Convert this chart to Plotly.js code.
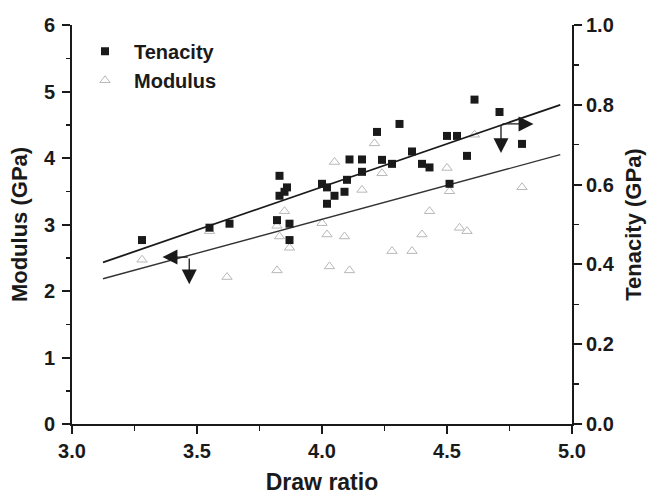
<!DOCTYPE html>
<html>
<head>
<meta charset="utf-8">
<script src="https://cdn.plot.ly/plotly-3.0.1.min.js"></script>
<style>
  html, body { margin: 0; padding: 0; background: #fff; }
  #chart { width: 647px; height: 495px; }
</style>
</head>
<body>
<div id="chart"></div>
<script>
// Tenacity (right axis, GPa) vs draw ratio
var tenacityDrawRatio = [3.28, 3.55, 3.63, 3.83, 3.83, 3.85, 3.86, 3.82, 3.87, 3.87, 4.00, 4.02, 4.02, 4.05, 4.09, 4.10, 4.11, 4.16, 4.16, 4.22, 4.24, 4.28, 4.31, 4.36, 4.40, 4.43, 4.50, 4.51, 4.54, 4.58, 4.61, 4.71, 4.80];
var tenacityValues = [0.461, 0.492, 0.502, 0.622, 0.572, 0.582, 0.593, 0.511, 0.502, 0.461, 0.602, 0.593, 0.552, 0.572, 0.582, 0.612, 0.663, 0.663, 0.632, 0.732, 0.662, 0.652, 0.752, 0.683, 0.652, 0.643, 0.722, 0.602, 0.722, 0.672, 0.813, 0.782, 0.702];

// Modulus (left axis, GPa) vs draw ratio
var modulusDrawRatio = [3.28, 3.55, 3.62, 3.82, 3.82, 3.83, 3.85, 3.87, 4.00, 4.02, 4.03, 4.05, 4.09, 4.11, 4.16, 4.21, 4.24, 4.28, 4.36, 4.40, 4.43, 4.50, 4.51, 4.55, 4.58, 4.61, 4.80];
var modulusValues = [2.47, 2.90, 2.21, 2.31, 2.98, 2.82, 3.20, 2.65, 3.02, 2.85, 2.37, 3.94, 2.82, 2.31, 3.52, 4.22, 3.77, 2.60, 2.60, 2.85, 3.20, 3.85, 3.50, 2.95, 2.90, 4.35, 3.56];

// Linear fit lines
var fitDrawRatio = [3.124, 4.953];
var tenacityFit = [0.405, 0.800];
var modulusFit = [2.185, 4.05];

// Arrow indicators: tail point, side tip x, down tip y
var modulusArrow = {x: 3.469, y: 2.51, tipX: 3.362, tipY: 2.10};
var tenacityArrow = {x: 4.716, y: 0.752, tipX: 4.846, tipY: 0.679};

var ink = '#1a1a1a';
var fontFam = '"Liberation Sans", Arial, Helvetica, sans-serif';

var traces = [
  {
    x: tenacityDrawRatio, y: tenacityValues, yaxis: 'y2',
    type: 'scatter', mode: 'markers', name: 'Tenacity',
    marker: {symbol: 'square', size: 8, color: ink, line: {width: 0}}
  },
  {
    x: modulusDrawRatio, y: modulusValues, yaxis: 'y',
    type: 'scatter', mode: 'markers', name: 'Modulus',
    marker: {symbol: 'triangle-up-open', size: 9, color: '#b8b8b8', line: {width: 1, color: '#b8b8b8'}}
  },
  {
    x: fitDrawRatio, y: tenacityFit, yaxis: 'y2',
    type: 'scatter', mode: 'lines', showlegend: false,
    line: {color: ink, width: 1.8}
  },
  {
    x: fitDrawRatio, y: modulusFit, yaxis: 'y',
    type: 'scatter', mode: 'lines', showlegend: false,
    line: {color: '#333', width: 1.4}
  }
];

function arrow(xref, yref, x, y, ax, ay) {
  return {
    xref: xref, yref: yref, axref: xref, ayref: yref,
    x: x, y: y, ax: ax, ay: ay, text: '', showarrow: true,
    arrowhead: 2, arrowsize: 2.3, arrowwidth: 1.3, arrowcolor: ink, standoff: 0, startstandoff: 0
  };
}

var annotations = [
  arrow('x', 'y', modulusArrow.tipX, modulusArrow.y, modulusArrow.x, modulusArrow.y),
  arrow('x', 'y', modulusArrow.x, modulusArrow.tipY, modulusArrow.x, modulusArrow.y),
  arrow('x', 'y2', tenacityArrow.tipX, tenacityArrow.y, tenacityArrow.x, tenacityArrow.y),
  arrow('x', 'y2', tenacityArrow.x, tenacityArrow.tipY, tenacityArrow.x, tenacityArrow.y)
];

var tickFont = {family: fontFam, size: 20, color: ink, weight: 700};
var titleFont = {family: fontFam, size: 22, color: ink, weight: 700};

var layout = {
  width: 647, height: 495,
  margin: {l: 72, r: 75, t: 25, b: 71, pad: 0},
  paper_bgcolor: '#fff', plot_bgcolor: '#fff',
  font: {family: fontFam, color: ink},
  showlegend: true,
  legend: {
    x: 0.008, y: 0.983, xanchor: 'left', yanchor: 'top',
    bgcolor: 'rgba(0,0,0,0)', borderwidth: 0,
    itemwidth: 48, tracegroupgap: 0,
    font: {family: fontFam, size: 20, color: ink, weight: 700}
  },
  xaxis: {
    range: [3, 5], dtick: 0.5, tick0: 3, tickformat: '.1f',
    ticks: 'outside', ticklen: 8, tickwidth: 2, tickcolor: ink,
    showline: true, linewidth: 2, linecolor: ink,
    showgrid: false, zeroline: false,
    minor: {dtick: 0.25, ticks: 'outside', ticklen: 5, tickwidth: 1.5, tickcolor: ink, showgrid: false},
    tickfont: tickFont,
    title: {text: 'Draw ratio', font: {family: fontFam, size: 23, color: ink, weight: 700}, standoff: 21}
  },
  yaxis: {
    range: [0, 6], dtick: 1, tick0: 0,
    ticks: 'outside', ticklen: 8, tickwidth: 2, tickcolor: ink,
    showline: true, linewidth: 2, linecolor: ink,
    showgrid: false, zeroline: false,
    minor: {dtick: 0.5, ticks: 'outside', ticklen: 4, tickwidth: 1.5, tickcolor: ink, showgrid: false},
    tickfont: tickFont, ticklabelstandoff: 3,
    title: {text: 'Modulus (GPa)', font: titleFont, standoff: 10}
  },
  yaxis2: {
    overlaying: 'y', side: 'right', anchor: 'x',
    range: [0, 1], dtick: 0.2, tick0: 0, tickformat: '.1f',
    ticks: 'outside', ticklen: 8, tickwidth: 2, tickcolor: ink,
    showline: true, linewidth: 2, linecolor: ink,
    showgrid: false, zeroline: false,
    minor: {dtick: 0.1, ticks: 'outside', ticklen: 5, tickwidth: 1.5, tickcolor: ink, showgrid: false},
    tickfont: tickFont,
    title: {text: 'Tenacity (GPa)', font: titleFont, standoff: 12}
  },
  annotations: annotations
};

Plotly.newPlot('chart', traces, layout, {displayModeBar: false, staticPlot: true});
</script>
</body>
</html>
